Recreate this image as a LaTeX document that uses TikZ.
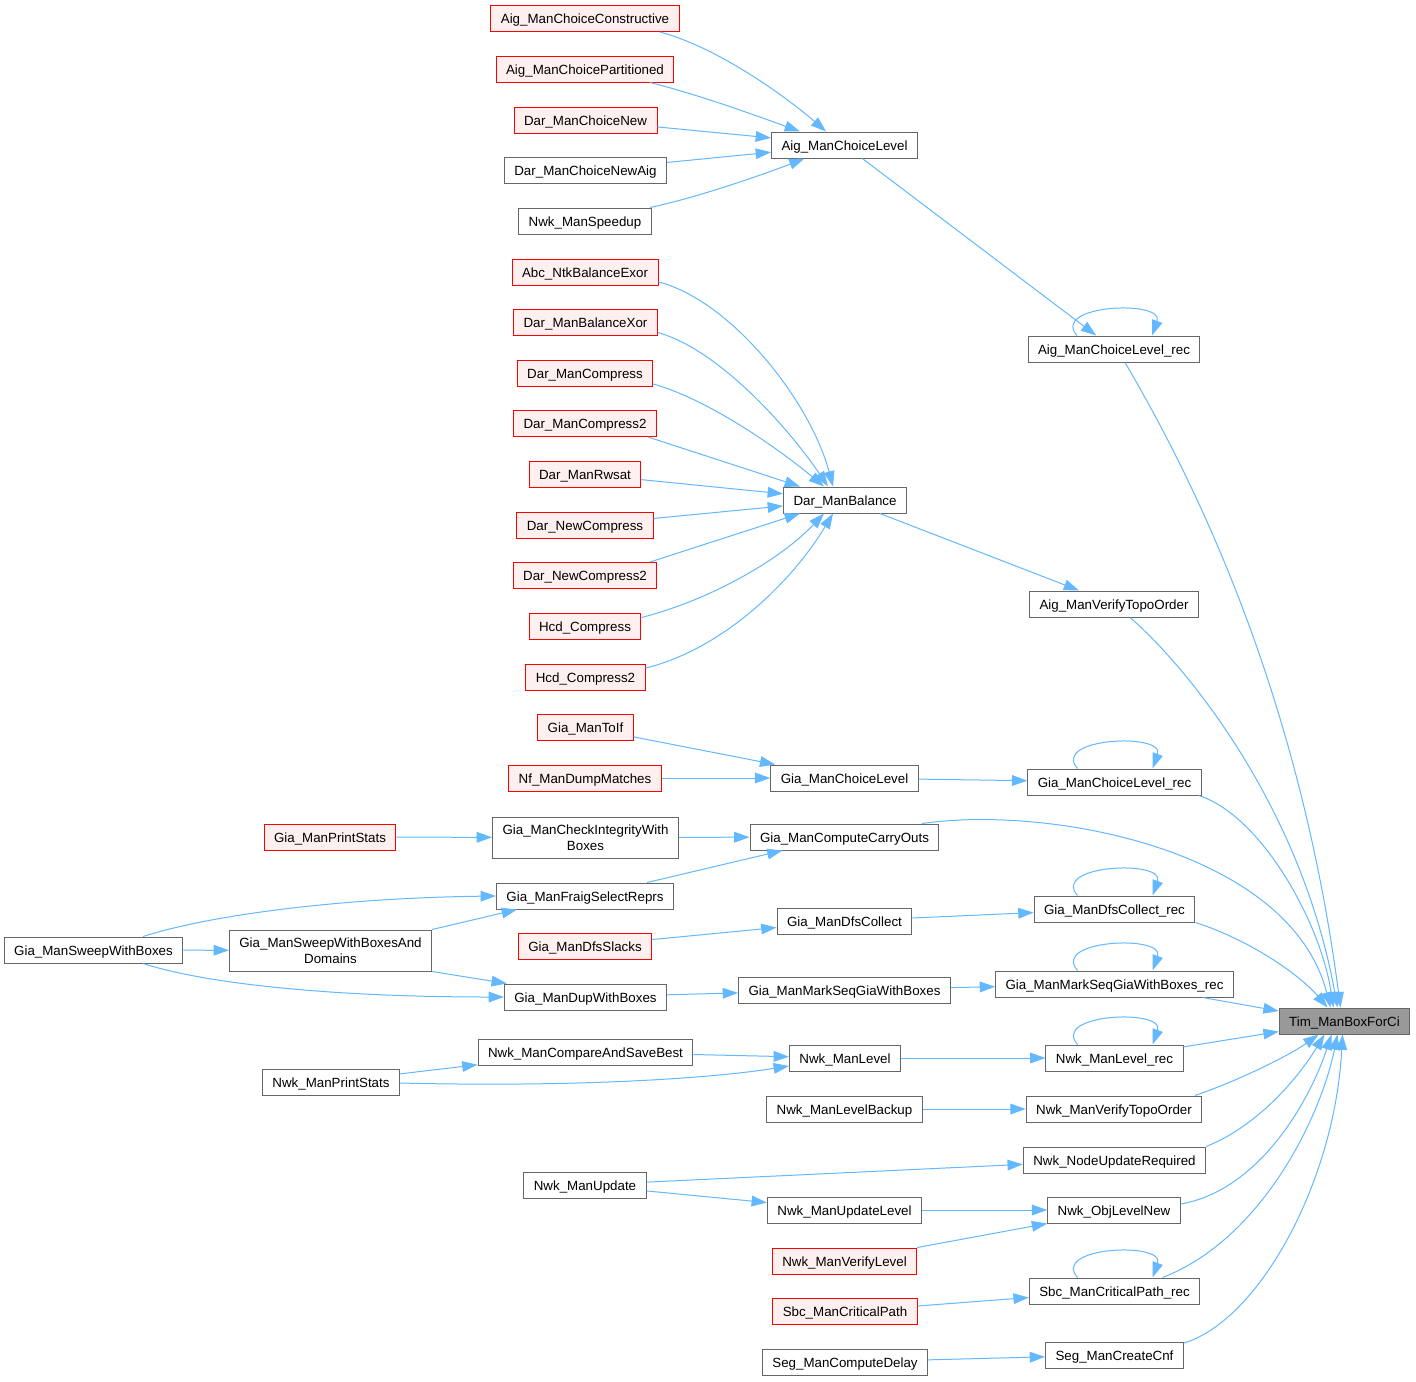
\documentclass[tikz,border=0pt]{standalone}
\usepackage{fontspec}
\setmainfont{Liberation Sans}
\usetikzlibrary{arrows.meta,calc}
\definecolor{edgec}{HTML}{63B8FF}
\definecolor{nodeb}{HTML}{666666}
\definecolor{redfill}{HTML}{FFF0F0}
\definecolor{timfill}{HTML}{999999}
\begin{document}
\begin{tikzpicture}[x=0.75pt,y=-0.75pt,
  every node/.style={font=\fontsize{10}{12}\selectfont},
  nb/.style={draw=nodeb, fill=white, line width=0.75pt, rectangle, inner xsep=7.5pt, inner ysep=0pt, minimum height=19.5pt, text height=9pt, text depth=0.8pt},
  nr/.style={nb, draw=red, fill=redfill},
  nt/.style={nb, fill=timfill},
  nbtwo/.style={nb, align=center, minimum height=30.75pt, text height=, text depth=},
  e/.style={draw=edgec, line width=0.75pt, -{Triangle[length=11.5pt,width=8pt]}}
]
\useasboundingbox (0,0) rectangle (1416,1381);
\fill[white] (0,0) rectangle (1416,1381);

% column 1
\node[nr] (A1) at (585,18.5) {Aig\_ManChoiceConstructive};
\node[nr] (A2) at (585,69) {Aig\_ManChoicePartitioned};
\node[nr] (A3) at (585.5,120) {Dar\_ManChoiceNew};
\node[nb] (A4) at (585.5,170.5) {Dar\_ManChoiceNewAig};
\node[nb] (A5) at (585,221) {Nwk\_ManSpeedup};
\node[nr] (B1) at (585,272) {Abc\_NtkBalanceExor};
\node[nr] (B2) at (585.5,322.5) {Dar\_ManBalanceXor};
\node[nr] (B3) at (585,373) {Dar\_ManCompress};
\node[nr] (B4) at (585,423.5) {Dar\_ManCompress2};
\node[nr] (B5) at (585,474) {Dar\_ManRwsat};
\node[nr] (B6) at (585,525) {Dar\_NewCompress};
\node[nr] (B7) at (585,575.5) {Dar\_NewCompress2};
\node[nr] (B8) at (585,626.5) {Hcd\_Compress};
\node[nr] (B9) at (585.5,677) {Hcd\_Compress2};
\node[nr] (C1) at (585.5,727.5) {Gia\_ManToIf};
\node[nr] (C2) at (585,778) {Nf\_ManDumpMatches};
\node[nbtwo] (D1) at (585.5,837.5) {Gia\_ManCheckIntegrityWith\\Boxes};
\node[nb] (D2) at (585,896) {Gia\_ManFraigSelectReprs};
\node[nr] (D3) at (585,946) {Gia\_ManDfsSlacks};
\node[nb] (D4) at (585.5,997) {Gia\_ManDupWithBoxes};
\node[nb] (E1) at (585.5,1052) {Nwk\_ManCompareAndSaveBest};
\node[nb] (E2) at (585,1185) {Nwk\_ManUpdate};

% column 2
\node[nb] (ACL) at (844.5,145) {Aig\_ManChoiceLevel};
\node[nb] (DMB) at (845,500) {Dar\_ManBalance};
\node[nb] (GCL) at (844.5,778) {Gia\_ManChoiceLevel};
\node[nb] (GCC) at (844.5,837) {Gia\_ManComputeCarryOuts};
\node[nb] (GDC) at (844.5,921) {Gia\_ManDfsCollect};
\node[nb] (GMS) at (844.5,990) {Gia\_ManMarkSeqGiaWithBoxes};
\node[nb] (NML) at (845,1058) {Nwk\_ManLevel};
\node[nb] (NLB) at (844.5,1109) {Nwk\_ManLevelBackup};
\node[nb] (NUL) at (844.5,1210) {Nwk\_ManUpdateLevel};
\node[nr] (NVL) at (844.5,1261) {Nwk\_ManVerifyLevel};
\node[nr] (SCP) at (845,1311.5) {Sbc\_ManCriticalPath};
\node[nb] (SCD) at (845,1362) {Seg\_ManComputeDelay};

% column 3
\node[nb] (ACLr) at (1114,349) {Aig\_ManChoiceLevel\_rec};
\node[nb] (AVT) at (1114,604) {Aig\_ManVerifyTopoOrder};
\node[nb] (GCLr) at (1114.5,782) {Gia\_ManChoiceLevel\_rec};
\node[nb] (GDCr) at (1114.5,909) {Gia\_ManDfsCollect\_rec};
\node[nb] (GMSr) at (1114.5,984) {Gia\_ManMarkSeqGiaWithBoxes\_rec};
\node[nb] (NMLr) at (1114.5,1058) {Nwk\_ManLevel\_rec};
\node[nb] (NVT) at (1114,1109) {Nwk\_ManVerifyTopoOrder};
\node[nb] (NUR) at (1114.5,1160) {Nwk\_NodeUpdateRequired};
\node[nb] (NOL) at (1114,1210) {Nwk\_ObjLevelNew};
\node[nb] (SCPr) at (1114.5,1291) {Sbc\_ManCriticalPath\_rec};
\node[nb] (SCC) at (1114.5,1355) {Seg\_ManCreateCnf};

\node[nt] (TIM) at (1344.5,1021) {Tim\_ManBoxForCi};

% left
\node[nr] (GPS) at (330,837) {Gia\_ManPrintStats};
\node[nbtwo] (SWD) at (330.5,950.5) {Gia\_ManSweepWithBoxesAnd\\Domains};
\node[nb] (SWB) at (93.5,950) {Gia\_ManSweepWithBoxes};
\node[nb] (NPS) at (331,1082) {Nwk\_ManPrintStats};

% edges to Aig_ManChoiceLevel
\draw[e] ($(A1.south)+(75,0)$) .. controls (720,48) and (790,100) .. ($(ACL.north)+(-18.5,0)$);
\draw[e] ($(A2.south)+(65,0)$) .. controls (700,95) and (760,117) .. ($(ACL.north)+(-44.5,0)$);
\draw[e] (A3) -- (ACL);
\draw[e] (A4) -- (ACL);
\draw[e] ($(A5.north)+(65,0)$) .. controls (700,197) and (770,172) .. ($(ACL.south)+(-40,0)$);
\draw[e] (ACL) -- (ACLr);

% edges to Dar_ManBalance
\draw[e] ($(B1.east)+(0,10)$) .. controls (730,300) and (810,400) .. ($(DMB.north)+(-12,0)$);
\draw[e] ($(B2.east)+(0,10)$) .. controls (720,350) and (790,430) .. ($(DMB.north)+(-17,0)$);
\draw[e] ($(B3.east)+(0,11)$) .. controls (710,400) and (780,450) .. ($(DMB.north)+(-21,0)$);
\draw[e] ($(B4.south)+(63,0)$) -- ($(DMB.north)+(-45,0)$);
\draw[e] (B5) -- (DMB);
\draw[e] (B6) -- (DMB);
\draw[e] ($(B7.north)+(65,0)$) -- ($(DMB.south)+(-45,0)$);
\draw[e] ($(B8.east)+(0,-9)$) .. controls (710,600) and (780,560) .. ($(DMB.south)+(-21,0)$);
\draw[e] ($(B9.east)+(0,-9)$) .. controls (720,650) and (790,585) .. ($(DMB.south)+(-12,0)$);
\draw[e] (DMB) -- (AVT);

% Gia choice level
\draw[e] (C1) -- (GCL);
\draw[e] (C2) -- (GCL);
\draw[e] (GCL) -- (GCLr);

% carry outs etc.
\draw[e] (GPS) -- (D1);
\draw[e] (D1) -- (GCC);
\draw[e] ($(D2.north)+(62,0)$) -- ($(GCC.south)+(-62,0)$);
\draw[e] ($(SWB.north)+(49.5,0)$) .. controls (210,915) and (340,898) .. (D2.west);
\draw[e] (SWB) -- (SWD);
\draw[e] (SWD.north east) -- ($(D2.south)+(-68,0)$);
\draw[e] (SWD.south east) -- ($(D4.north west)+(3,0)$);
\draw[e] ($(SWB.south)+(49.5,0)$) .. controls (210,985) and (340,997) .. (D4.west);
\draw[e] (D4) -- (GMS);
\draw[e] (GMS) -- (GMSr);
\draw[e] (D3) -- (GDC);
\draw[e] (GDC) -- (GDCr);

% Nwk
\draw[e] (NPS) -- (E1);
\draw[e] ($(NPS.east)+(0,1)$) .. controls (560,1087) and (700,1080) .. ($(NML.west)+(0,8)$);
\draw[e] (E1) -- (NML);
\draw[e] (NML) -- (NMLr);
\draw[e] (NLB) -- (NVT);
\draw[e] (E2) -- (NUR);
\draw[e] (E2) -- (NUL);
\draw[e] (NUL) -- (NOL);
\draw[e] (NVL.north east) -- (NOL.south west);
\draw[e] (SCP) -- (SCPr);
\draw[e] (SCD) -- (SCC);

% self loops
\foreach \n in {ACLr,GCLr,GDCr,GMSr,NMLr,SCPr}{
  \draw[e] ($(\n.north)+(-37,0)$) .. controls +(-27,-31) and +(13,-36) .. ($(\n.north)+(38,0)$);
}

% edges into Tim_ManBoxForCi
\draw[e] ($(ACLr.south)+(11,0)$) .. controls (1200,490) and (1300,700) .. ($(TIM.north)+(-4,0)$);
\draw[e] ($(AVT.south)+(16,0)$) .. controls (1180,660) and (1300,800) .. ($(TIM.north)+(-7,0)$);
\draw[e] ($(GCLr.south east)+(-3,0)$) .. controls (1260,815) and (1320,920) .. ($(TIM.north)+(-11,0)$);
\draw[e] ($(GCC.north)+(77.5,0)$) .. controls (1050,805) and (1290,850) .. ($(TIM.north)+(-14,0)$);
\draw[e] (GDCr.south east) .. controls (1250,940) and (1300,975) .. ($(TIM.north)+(-17,0)$);
\draw[e] ($(GMSr.south)+(88,0)$) -- ($(TIM.west)+(0,-10)$);
\draw[e] (NMLr) -- (TIM);
\draw[e] ($(NVT.north)+(81,0)$) .. controls (1240,1080) and (1290,1055) .. ($(TIM.south)+(-26,0)$);
\draw[e] (NUR.north east) .. controls (1260,1125) and (1300,1075) .. ($(TIM.south)+(-20,0)$);
\draw[e] ($(NOL.east)+(0,-6)$) .. controls (1260,1190) and (1310,1100) .. ($(TIM.south)+(-13,0)$);
\draw[e] ($(SCPr.north)+(48,0)$) .. controls (1260,1240) and (1320,1120) .. ($(TIM.south)+(-7,0)$);
\draw[e] ($(SCC.east)+(0,-12)$) .. controls (1260,1320) and (1335,1180) .. ($(TIM.south)+(-2,0)$);
\end{tikzpicture}
\end{document}
